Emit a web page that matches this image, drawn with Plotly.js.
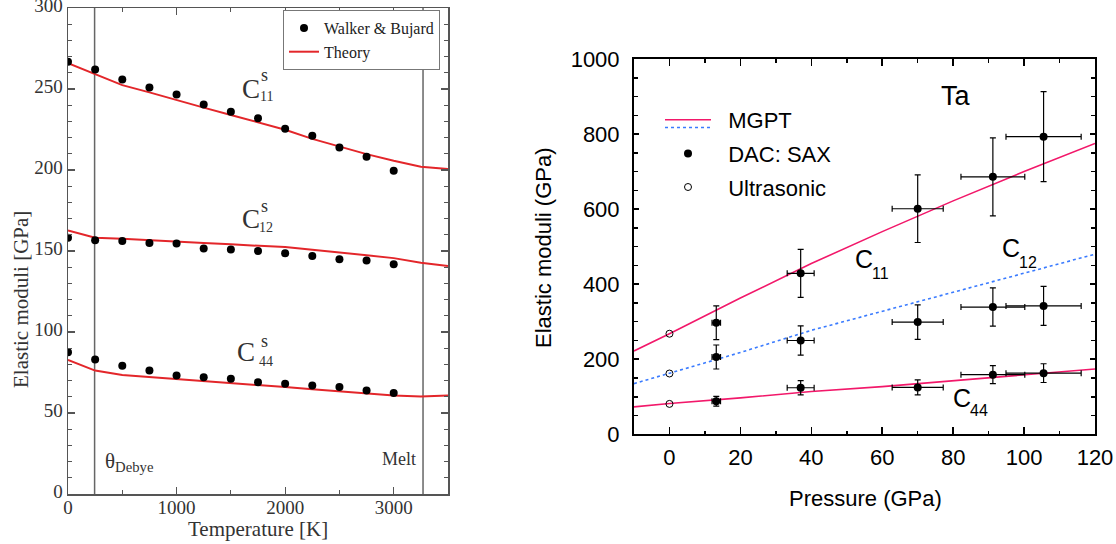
<!DOCTYPE html>
<html><head><meta charset="utf-8">
<script src="https://cdn.plot.ly/plotly-3.0.1.min.js"></script>
<style>html,body{margin:0;padding:0;background:#fff}</style>
</head><body><div id="chart" style="width:1116px;height:544px"></div>
<script>
// ---------- Left panel: elastic moduli vs temperature ----------
const wbTemp = [0,250,500,750,1000,1250,1500,1750,2000,2250,2500,2750,3000];
const wbC11 = [266.8,262.0,255.9,250.9,246.6,240.5,236.0,231.9,225.4,221.1,213.9,208.2,199.6];
const wbC12 = [158.2,156.7,156.1,154.9,154.7,151.6,151.0,150.0,148.6,146.9,144.9,144.2,141.8];
const wbC44 = [87.5,83.0,79.1,76.2,73.1,72.1,71.1,69.0,68.0,67.0,66.0,63.9,62.3];
const thTemp = [0,250,500,750,1000,1250,1500,1750,2000,2250,2500,2750,3000,3250,3500];
const thC11 = [266,259,252.4,247.9,243,238.5,234,229.3,224.8,219.2,214.5,209.8,205.7,202,200.6];
const thC12 = [162.7,158.2,157.5,156.8,156.1,155,154.1,153.4,152.4,150.8,149.3,147.4,145.6,142.8,140.7];
const thC44 = [82.8,76.2,73.5,72.3,71.1,69.8,68.4,67.2,66,64.6,63.3,62,60.8,60.2,60.8];
const debyeT = 245;
const meltT = 3270;

// ---------- Right panel: elastic moduli vs pressure ----------
const mgptP = [-10,0,20,40,60,80,100,120];
const mgptC11 = [222,268,363,455,540,622,700,775];
const mgptC12 = [135,162,218,277,328,380,430,480];
const mgptC44 = [73,82,97,114,127,143,159,174];
const dacP = [13.2,37,70,91.2,105.5];
const dacPErr = [1.2,3.8,7.2,9,10.6];
const dacC11 = [297,429,601,686,793];
const dacC11Err = [45,64,90,104,120];
const dacC12 = [206,250,299,339,342];
const dacC12Err = [32,39,46,51,52];
const dacC44 = [88,124,125,159,163];
const dacC44Err = [13,19,20,24,25];
const usP = [0,0,0];
const usVal = [268,162,81];

const SERIF = 'Liberation Serif, Times New Roman, serif';
const SANS = 'Liberation Sans, Arial, sans-serif';
const RED = '#e3262a';
const PINK = '#f2186a';
const BLUE = '#3a7bff';
const GRAY = '#555';
const NB = '\u00a0\u00a0';

const traces = [];
// theory lines
[thC11, thC12, thC44].forEach((ys, i) => traces.push({
  x: thTemp, y: ys, mode: 'lines', xaxis: 'x', yaxis: 'y',
  line: {color: RED, width: 2}, name: 'Theory', legend: 'legend',
  showlegend: i === 0, legendrank: 2, hoverinfo: 'skip'
}));
// Walker & Bujard points
[wbC11, wbC12, wbC44].forEach((ys, i) => traces.push({
  x: wbTemp, y: ys, mode: 'markers', xaxis: 'x', yaxis: 'y',
  marker: {color: '#000', size: 8}, name: 'Walker & Bujard', legend: 'legend',
  showlegend: i === 0, legendrank: 1
}));

// MGPT lines
traces.push({x: mgptP, y: mgptC11, mode: 'lines', xaxis: 'x2', yaxis: 'y2',
  line: {color: PINK, width: 1.6}, name: NB + 'MGPT', legend: 'legend2', legendgroup: 'g1'});
traces.push({x: mgptP, y: mgptC44, mode: 'lines', xaxis: 'x2', yaxis: 'y2',
  line: {color: PINK, width: 1.6}, name: 'MGPT', legend: 'legend2', legendgroup: 'g1', showlegend: false});
traces.push({x: mgptP, y: mgptC12, mode: 'lines', xaxis: 'x2', yaxis: 'y2',
  line: {color: BLUE, width: 1.6, dash: 'dot'}, name: 'MGPT', legend: 'legend3'});
// DAC: SAX
const errStyle = {type: 'data', visible: true, color: '#000', thickness: 1.2, width: 3};
[[dacC11, dacC11Err], [dacC12, dacC12Err], [dacC44, dacC44Err]].forEach(([ys, es], i) => traces.push({
  x: dacP, y: ys, mode: 'markers', xaxis: 'x2', yaxis: 'y2',
  marker: {color: '#000', size: 8},
  error_y: Object.assign({array: es}, errStyle),
  error_x: Object.assign({array: dacPErr}, errStyle),
  name: NB + 'DAC: SAX', legend: 'legend2', legendgroup: 'g2', showlegend: i === 0
}));
// Ultrasonic
traces.push({x: usP, y: usVal, mode: 'markers', xaxis: 'x2', yaxis: 'y2',
  marker: {color: '#000', size: 7, symbol: 'circle-open', line: {width: 1, color: '#000'}},
  name: NB + 'Ultrasonic', legend: 'legend2', legendgroup: 'g3'});

const W = 1116, H = 544;
const px = v => v / W, py = v => 1 - v / H;

const leftAxisCommon = {
  showgrid: false, zeroline: false, showline: true, linecolor: GRAY, linewidth: 1.5,
  mirror: 'ticks', ticks: 'inside', ticklen: 7, tickcolor: GRAY, tickwidth: 1.2,
  ticklabeloverflow: 'allow',
  tickfont: {family: SERIF, size: 19, color: '#333'}
};
const rightAxisCommon = {
  showgrid: false, zeroline: false, showline: true, linecolor: '#000', linewidth: 2,
  mirror: 'ticks', ticks: 'inside', tickcolor: '#000', tickwidth: 1.5,
  ticklabeloverflow: 'allow',
  tickfont: {family: SANS, size: 22, color: '#000'}
};

const ann = [];
function A(o) { ann.push(Object.assign({showarrow: false, xanchor: 'center', yanchor: 'middle'}, o)); }
// left panel labels
const cs = [
  ['11', 250.2, 258.8, 245.3, 1681],
  ['12', 169.7, 177.7, 164.8, 1681],
  ['44', 87.9, 94.7, 81.5, 1644]
];
cs.forEach(([sub, yc, ys, yb, xc]) => {
  A({xref: 'x', yref: 'y', x: xc, y: yc, text: 'C', font: {family: SERIF, size: 27, color: '#333'}});
  A({xref: 'x', yref: 'y', x: 1812, y: ys, text: 's', font: {family: SERIF, size: 18, color: '#333'}});
  A({xref: 'x', yref: 'y', x: 1828, y: yb, text: sub, font: {family: SERIF, size: 14, color: '#333'}});
});
A({xref: 'x', yref: 'y', x: 320, y: 20, xanchor: 'left', text: 'θ<sub>Debye</sub>', font: {family: SERIF, size: 21, color: '#333'}});
A({xref: 'x', yref: 'y', x: 3049, y: 21.5, text: 'Melt', font: {family: SERIF, size: 18, color: '#333'}});
// left axis titles
A({xref: 'paper', yref: 'paper', x: px(258), y: py(529), text: 'Temperature [K]', font: {family: SERIF, size: 21, color: '#333'}});
A({xref: 'paper', yref: 'paper', x: px(21), y: py(300), textangle: -90, text: 'Elastic moduli [GPa]', font: {family: SERIF, size: 21, color: '#333'}});
// right panel labels
A({xref: 'x2', yref: 'y2', x: 80.7, y: 901, text: 'Ta', font: {family: SANS, size: 27, color: '#000'}});
[['C', 54.8, 467], ['C', 96.2, 497.7], ['C', 82.4, 96.7]].forEach(([t, x, y]) =>
  A({xref: 'x2', yref: 'y2', x: x, y: y, text: t, font: {family: SANS, size: 25, color: '#000'}}));
[['11', 59.6, 428.5], ['12', 101, 459.1], ['44', 87.2, 62.1]].forEach(([t, x, y]) =>
  A({xref: 'x2', yref: 'y2', x: x, y: y, text: t, font: {family: SANS, size: 16, color: '#000'}}));
A({xref: 'paper', yref: 'paper', x: px(865), y: py(498), text: 'Pressure (GPa)', font: {family: SANS, size: 22, color: '#000'}});
A({xref: 'paper', yref: 'paper', x: px(544), y: py(248), textangle: -90, text: 'Elastic moduli (GPa)', font: {family: SANS, size: 22, color: '#000'}});

const layout = {
  width: W, height: H, autosize: false,
  margin: {l: 0, r: 0, t: 0, b: 0},
  paper_bgcolor: '#fff', plot_bgcolor: '#fff',
  xaxis: Object.assign({}, leftAxisCommon, {domain: [px(68), px(448)], range: [0, 3500], dtick: 1000, tick0: 0,
    minor: {dtick: 500, ticklen: 4, ticks: 'inside', tickcolor: GRAY}, anchor: 'y', ticklabelstandoff: -4}),
  yaxis: Object.assign({}, leftAxisCommon, {domain: [py(494), py(8)], range: [0, 300], dtick: 50, tick0: 0,
    minor: {dtick: 10, ticklen: 4, ticks: 'inside', tickcolor: GRAY}, anchor: 'x', ticklabelshift: -3}),
  xaxis2: Object.assign({}, rightAxisCommon, {domain: [px(634), px(1095)], range: [-10, 120], dtick: 20, tick0: 0,
    ticklen: 7, minor: {dtick: 10, ticklen: 3.5, ticks: 'inside', tickcolor: '#000'}, anchor: 'y2', ticklabelstandoff: 2}),
  yaxis2: Object.assign({}, rightAxisCommon, {domain: [py(434.3), py(59)], range: [0, 1000], dtick: 200, tick0: 0,
    ticklen: 5, minor: {dtick: 50, ticklen: 4, ticks: 'inside', tickcolor: '#000'}, anchor: 'x2', ticklabelstandoff: 8}),
  legend: {x: px(440), xanchor: 'right', y: py(10), yanchor: 'top', bgcolor: '#fff', bordercolor: '#777', borderwidth: 1,
    font: {family: SERIF, size: 16, color: '#222'}, traceorder: 'normal', itemwidth: 30},
  legend2: {x: px(660), xanchor: 'left', y: py(99), yanchor: 'top', bgcolor: 'rgba(0,0,0,0)', borderwidth: 0,
    font: {family: SANS, size: 22, color: '#000'}, traceorder: 'grouped', tracegroupgap: 2, itemwidth: 46},
  legend3: {x: px(660), xanchor: 'left', y: py(113), yanchor: 'top', bgcolor: 'rgba(0,0,0,0)', borderwidth: 0,
    font: {family: SANS, size: 2, color: 'rgba(0,0,0,0)'}, itemwidth: 46},
  shapes: [debyeT, meltT].map(t => ({type: 'line', xref: 'x', yref: 'y domain', x0: t, x1: t, y0: 0, y1: 1,
    line: {color: '#666', width: 1.5}, layer: 'below'})),
  annotations: ann,
  showlegend: true
};

Plotly.newPlot('chart', traces, layout, {displayModeBar: false, staticPlot: true});
</script></body></html>
